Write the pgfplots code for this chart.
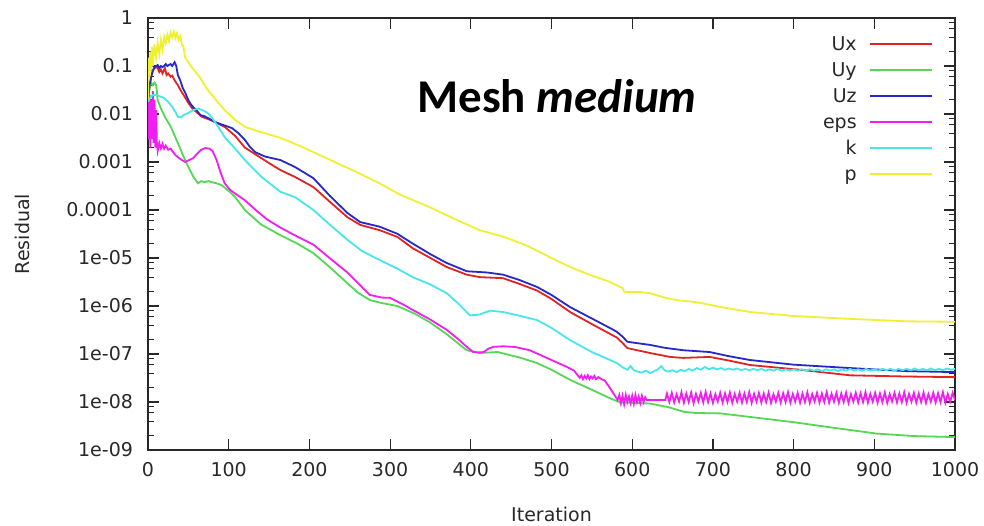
\documentclass[border=0pt]{standalone}
\usepackage{pgfplots}
\pgfplotsset{compat=1.18}
\usepackage{fontspec}
\setmainfont{DejaVu Sans}
\newfontfamily\titlefont{Carlito}

\definecolor{cUx}{RGB}{225,35,35}
\definecolor{cUy}{RGB}{85,215,85}
\definecolor{cUz}{RGB}{40,40,200}
\definecolor{ceps}{RGB}{240,30,240}
\definecolor{ck}{RGB}{70,230,235}
\definecolor{cp}{RGB}{240,240,50}
\definecolor{axgray}{RGB}{40,40,40}

\begin{document}
\begin{tikzpicture}
\begin{axis}[
    scale only axis,
    width=403.5pt, height=216pt,
    xmin=0, xmax=1000,
    ymode=log, ymin=1e-9, ymax=1,
    xtick={0,100,...,1000},
    ytick={1e-9,1e-8,1e-7,1e-6,1e-5,1e-4,1e-3,1e-2,1e-1,1},
    yticklabels={1e-09,1e-08,1e-07,1e-06,1e-05,0.0001,0.001,0.01,0.1,1},
    minor ytick={2e-9,4e-9,6e-9,8e-9,2e-8,4e-8,6e-8,8e-8,2e-7,4e-7,6e-7,8e-7,
        2e-6,4e-6,6e-6,8e-6,2e-5,4e-5,6e-5,8e-5,2e-4,4e-4,6e-4,8e-4,
        2e-3,4e-3,6e-3,8e-3,2e-2,4e-2,6e-2,8e-2,0.2,0.4,0.6,0.8},
    tick pos=both, tick align=inside,
    major tick length=5.5pt, minor tick length=3pt,
    every tick/.style={axgray, line width=0.6pt},
    axis line style={axgray, line width=0.7pt},
    tick label style={font=\fontsize{9.5}{11}\selectfont, text=axgray},
    yticklabel style={xshift=-4pt},
    xticklabel style={yshift=-2.5pt},
    /pgf/number format/assume math mode=true,
    /pgf/number format/set thousands separator={},
    xlabel={Iteration}, ylabel={Residual},
    label style={font=\fontsize{9.5}{11}\selectfont, text=axgray},
    xlabel style={at={(axis description cs:0.5,-0.150)}, anchor=center},
    ylabel style={at={(axis description cs:-0.156,0.5)}, anchor=center},
    legend style={draw=none, fill=none, at={(axis description cs:0.980,0.980)},
        anchor=north east, font=\fontsize{9.5}{11}\selectfont, text=axgray,
        row sep=0pt, column sep=6pt,
        nodes={inner sep=0pt, text height=9.5pt, text depth=3.5pt}},
    legend cell align=right,
    legend plot pos=right,
    legend image code/.code={\draw[#1] (0pt,0pt) -- (31pt,0pt);},
    clip=true,
]
% Ux
\addplot[cUx, line width=0.9pt] coordinates {
(0,0.02)(2,0.04)(4,0.06)(6,0.08)(8,0.09)(10,0.095)(12,0.09)(14,0.075)(16,0.085)(18,0.07)
(21,0.09)(23,0.065)(25,0.07)(28,0.06)(30,0.063)(33,0.05)(37,0.04)(40,0.032)(44,0.025)(50,0.017)
(55,0.013)(60,0.011)(67,0.0087)(75,0.0078)(83,0.0068)(95,0.0054)(108,0.0035)(120,0.002)
(150,9.5e-4)(164,6.8e-4)(182,4.9e-4)(205,3.0e-4)(225,1.5e-4)(247,7.1e-5)(263,4.9e-5)
(287,3.8e-5)(309,2.75e-5)(328,1.6e-5)(350,1.0e-5)(370,6.5e-6)(395,4.5e-6)(411,4.0e-6)
(440,3.8e-6)(460,2.9e-6)(482,2.1e-6)(500,1.4e-6)(523,7.5e-7)(550,4.2e-7)(581,2.2e-7)
(588,1.7e-7)(594,1.33e-7)(622,1.05e-7)(647,8.7e-8)(663,8.3e-8)(680,8.5e-8)(696,8.7e-8)
(720,7.3e-8)(746,5.9e-8)(808,4.7e-8)(870,3.6e-8)(940,3.4e-8)(1000,3.3e-8)
};
\addlegendentry{Ux}
% Uy
\addplot[cUy, line width=0.9pt] coordinates {
(0,0.02)(2,0.035)(4,0.045)(6,0.04)(8,0.045)(10,0.04)(11,0.03)(12,0.0195)(16,0.013)(21,0.0087)
(28,0.0055)(37,0.0025)(44,0.0013)(50,7.9e-4)(56,5.0e-4)(62,3.6e-4)(66,4.0e-4)(70,3.8e-4)
(75,4.0e-4)(79,3.8e-4)(85,3.6e-4)(91,3.3e-4)(100,2.5e-4)(108,1.86e-4)(120,1.0e-4)(140,5.0e-5)
(164,3.0e-5)(185,2.0e-5)(205,1.26e-5)(225,6.5e-6)(247,3.0e-6)(260,1.9e-6)(275,1.33e-6)
(290,1.15e-6)(309,1.0e-6)(330,7.0e-7)(350,4.5e-7)(370,2.6e-7)(395,1.2e-7)(411,1.05e-7)
(433,1.1e-7)(460,8.5e-8)(482,6.5e-8)(500,4.7e-8)(523,2.9e-8)(550,1.8e-8)(570,1.25e-8)
(585,9.8e-9)(600,9.6e-9)(622,9.3e-9)(645,7.8e-9)(665,6.2e-9)(680,5.9e-9)(709,5.8e-9)
(750,4.8e-9)(800,3.8e-9)(850,2.9e-9)(903,2.2e-9)(950,1.95e-9)(1000,1.86e-9)
};
\addlegendentry{Uy}
% Uz
\addplot[cUz, line width=0.9pt] coordinates {
(0,0.02)(2,0.04)(4,0.06)(6,0.08)(8,0.095)(10,0.1)(12,0.105)(14,0.09)(16,0.1)(18,0.095)
(20,0.1)(22,0.11)(24,0.1)(26,0.105)(28,0.11)(30,0.1)(33,0.12)(35,0.1)(37,0.065)(40,0.05)
(43,0.035)(46,0.028)(50,0.0195)(53,0.016)(56,0.014)(60,0.012)(65,0.0095)(70,0.009)(77,0.0078)
(83,0.0068)(92,0.006)(104,0.0051)(112,0.004)(120,0.0029)(126,0.0021)(133,0.0016)(145,0.0013)
(164,0.0011)(182,7.9e-4)(205,4.6e-4)(225,2.0e-4)(247,8.7e-5)(263,5.6e-5)(287,4.5e-5)
(309,3.2e-5)(328,2.0e-5)(350,1.2e-5)(370,7.9e-6)(395,5.3e-6)(420,5.0e-6)(440,4.5e-6)
(460,3.5e-6)(482,2.5e-6)(500,1.7e-6)(523,9.5e-7)(550,5.5e-7)(575,3.3e-7)(581,2.9e-7)
(588,2.3e-7)(594,1.8e-7)(610,1.65e-7)(622,1.55e-7)(640,1.35e-7)(663,1.2e-7)(696,1.1e-7)
(720,9e-8)(746,7.5e-8)(800,6.0e-8)(870,5.1e-8)(940,4.4e-8)(1000,4.2e-8)
};
\addlegendentry{Uz}
% eps
\addplot[ceps, line width=0.9pt] coordinates {
(0,0.02)(1,0.003)(2,0.025)(3,0.002)(4,0.02)(5,0.003)(6,0.03)(7,0.0025)(8,0.02)(9,0.002)
(10,0.012)(11,0.0025)(12,0.0017)(14,0.0025)(16,0.0019)(18,0.0024)(20,0.0019)(22,0.0022)
(25,0.0018)(28,0.0019)(30,0.0017)(34,0.0014)(37,0.00126)(42,0.0011)(46,0.001)(51,0.0011)
(56,0.0012)(61,0.0015)(66,0.0018)(71,0.00195)(76,0.0019)(80,0.0017)(85,0.0011)(90,6.0e-4)
(95,3.6e-4)(101,2.7e-4)(108,2.2e-4)(120,1.6e-4)(135,9.5e-5)(148,6.3e-5)(164,4.3e-5)
(185,2.8e-5)(205,1.9e-5)(225,1.0e-5)(247,5.0e-6)(262,2.8e-6)(275,1.7e-6)(290,1.5e-6)
(300,1.48e-6)(315,1.1e-6)(328,8.3e-7)(350,5.2e-7)(370,3.2e-7)(385,2.0e-7)(395,1.41e-7)
(403,1.1e-7)(410,1.08e-7)(416,1.1e-7)(422,1.3e-7)(428,1.41e-7)(440,1.45e-7)(455,1.4e-7)
(473,1.2e-7)(500,7.5e-8)(519,5.4e-8)(528,4.5e-8)(533,3.5e-8)
(535,3.2e-8)(537,3.6e-8)(539,3.0e-8)(541,3.5e-8)(543,3.1e-8)(545,3.6e-8)(547,3.0e-8)
(549,3.4e-8)(551,3.1e-8)(553,3.5e-8)(555,3.0e-8)(558,3.3e-8)(562,3.0e-8)(566,2.8e-8)
(572,2.0e-8)(578,1.4e-8)(582,1.1e-8)
(584,1.4e-8)(586,0.95e-8)(588,1.35e-8)(590,0.9e-8)(592,1.4e-8)(594,1.0e-8)(596,1.3e-8)
(598,0.95e-8)(600,1.35e-8)(602,0.92e-8)(604,1.4e-8)(606,1.0e-8)(608,1.3e-8)(610,0.95e-8)
(612,1.35e-8)(614,1.0e-8)(616,1.25e-8)(618,1.1e-8)(641,1.1e-8)
(643,1.5e-8)(646,1.0e-8)(649,1.55e-8)(652,0.98e-8)(655,1.45e-8)(658,1.02e-8)(661,1.6e-8)
(664,0.97e-8)(667,1.5e-8)(670,1.0e-8)(673,1.58e-8)(676,0.95e-8)(679,1.48e-8)(682,1.03e-8)
(685,1.55e-8)(688,0.98e-8)(691,1.62e-8)(694,1.0e-8)(697,1.5e-8)(700,0.96e-8)(703,1.45e-8)
(706,1.02e-8)(709,1.55e-8)(712,0.98e-8)(715,1.5e-8)(718,1.0e-8)(721,1.58e-8)(724,0.97e-8)
(727,1.47e-8)(730,1.02e-8)(733,1.55e-8)(736,0.97e-8)(739,1.5e-8)(742,1.0e-8)(745,1.6e-8)
(748,0.96e-8)(751,1.48e-8)(754,1.02e-8)(757,1.55e-8)(760,0.98e-8)(763,1.5e-8)(766,1.0e-8)
(769,1.57e-8)(772,0.96e-8)(775,1.45e-8)(778,1.02e-8)(781,1.55e-8)(784,0.98e-8)(787,1.52e-8)
(790,1.0e-8)(793,1.6e-8)(796,0.97e-8)(799,1.47e-8)(802,1.02e-8)(805,1.55e-8)(808,0.97e-8)
(811,1.5e-8)(814,1.0e-8)(817,1.58e-8)(820,0.96e-8)(823,1.46e-8)(826,1.03e-8)(829,1.55e-8)
(832,0.98e-8)(835,1.5e-8)(838,1.0e-8)(841,1.6e-8)(844,0.97e-8)(847,1.48e-8)(850,1.02e-8)
(853,1.55e-8)(856,0.97e-8)(859,1.5e-8)(862,1.0e-8)(865,1.57e-8)(868,0.96e-8)(871,1.46e-8)
(874,1.02e-8)(877,1.55e-8)(880,0.98e-8)(883,1.52e-8)(886,1.0e-8)(889,1.6e-8)(892,0.97e-8)
(895,1.47e-8)(898,1.02e-8)(901,1.55e-8)(904,0.97e-8)(907,1.5e-8)(910,1.0e-8)(913,1.58e-8)
(916,0.96e-8)(919,1.46e-8)(922,1.03e-8)(925,1.55e-8)(928,0.98e-8)(931,1.5e-8)(934,1.0e-8)
(937,1.6e-8)(940,0.97e-8)(943,1.48e-8)(946,1.02e-8)(949,1.55e-8)(952,0.97e-8)(955,1.5e-8)
(958,1.0e-8)(961,1.57e-8)(964,0.96e-8)(967,1.46e-8)(970,1.02e-8)(973,1.55e-8)(976,0.98e-8)
(979,1.52e-8)(982,1.0e-8)(985,1.6e-8)(988,0.97e-8)(991,1.47e-8)(994,1.02e-8)(997,1.55e-8)
(1000,1.1e-8)
};
\addlegendentry{eps}
% k
\addplot[ck, line width=0.9pt] coordinates {
(0,0.018)(3,0.022)(6,0.025)(9,0.025)(13,0.024)(19,0.022)(25,0.018)(30,0.014)(34,0.011)
(37,0.0087)(41,0.0085)(44,0.0095)(50,0.0105)(56,0.012)(62,0.013)(68,0.012)(74,0.0105)
(79,0.0085)(83,0.0068)(89,0.0048)(95,0.0033)(108,0.0019)(120,0.0011)(140,5.0e-4)(164,2.4e-4)
(182,1.86e-4)(205,1.0e-4)(225,5.0e-5)(247,2.4e-5)(265,1.4e-5)(287,9.1e-6)(309,6.0e-6)
(328,4.0e-6)(350,2.8e-6)(370,1.86e-6)(385,1.1e-6)(399,6.4e-7)(410,6.6e-7)(424,8.0e-7)
(440,7.5e-7)(460,6.3e-7)(482,5.1e-7)(500,3.5e-7)(523,1.95e-7)(550,1.1e-7)(575,7.2e-8)
(581,6.5e-8)(588,5.3e-8)
(594,4.7e-8)(598,5.6e-8)(602,4.6e-8)(607,4.3e-8)(612,4.1e-8)(617,4.5e-8)(622,4.0e-8)
(627,4.4e-8)(632,4.8e-8)(636,5.6e-8)(640,4.6e-8)(645,4.3e-8)(650,4.6e-8)(655,4.2e-8)
(660,4.7e-8)(665,4.4e-8)(670,4.9e-8)(675,4.5e-8)(680,5.1e-8)(685,4.7e-8)(690,5.4e-8)
(695,4.8e-8)(700,5.2e-8)(705,4.8e-8)(710,5.1e-8)(715,4.7e-8)(720,5.0e-8)(725,4.7e-8)
(730,5.0e-8)(735,4.6e-8)(740,4.9e-8)(745,4.6e-8)(750,4.9e-8)(755,4.6e-8)(760,4.9e-8)
(765,4.5e-8)(770,4.8e-8)(775,4.5e-8)(780,4.9e-8)(785,4.5e-8)(790,4.8e-8)(795,4.5e-8)
(800,4.8e-8)(805,4.5e-8)(810,4.8e-8)(815,4.5e-8)(820,4.8e-8)(825,4.5e-8)(830,4.8e-8)
(835,4.4e-8)(840,4.8e-8)(845,4.5e-8)(850,4.8e-8)(855,4.4e-8)(860,4.8e-8)(865,4.5e-8)
(870,4.9e-8)(875,4.5e-8)(880,4.8e-8)(885,4.5e-8)(890,4.9e-8)(895,4.5e-8)(900,4.8e-8)
(905,4.5e-8)(910,4.9e-8)(915,4.6e-8)(920,4.9e-8)(925,4.5e-8)(930,4.9e-8)(935,4.6e-8)
(940,4.9e-8)(945,4.6e-8)(950,5.0e-8)(955,4.6e-8)(960,4.9e-8)(965,4.6e-8)(970,5.0e-8)
(975,4.6e-8)(980,4.9e-8)(985,4.6e-8)(990,5.0e-8)(995,4.7e-8)(1000,4.9e-8)
};
\addlegendentry{k}
% p
\addplot[cp, line width=0.9pt] coordinates {
(0,0.02)(1,0.15)(2,0.06)(3,0.2)(4,0.08)(5,0.25)(6,0.1)(8,0.28)(10,0.15)(12,0.3)(14,0.18)
(16,0.35)(18,0.22)(20,0.4)(22,0.3)(24,0.45)(26,0.33)(28,0.5)(30,0.4)(32,0.52)(34,0.38)
(36,0.48)(38,0.35)(40,0.42)(42,0.28)(44,0.25)(46,0.15)(50,0.12)(55,0.09)(64,0.059)(72,0.035)
(80,0.024)(95,0.012)(108,0.0075)(120,0.0054)(140,0.0042)(164,0.0032)(190,0.0021)(226,0.0011)
(260,6.0e-4)(287,3.6e-4)(312,2.1e-4)(349,1.15e-4)(380,6.5e-5)(411,3.8e-5)(440,2.8e-5)
(470,1.8e-5)(500,1.0e-5)(523,6.5e-6)(550,4.3e-6)(570,3.3e-6)(585,2.5e-6)(588,2.4e-6)
(590,2.0e-6)(594,1.95e-6)(610,1.95e-6)(622,1.85e-6)(640,1.5e-6)(655,1.33e-6)(680,1.2e-6)
(710,9.5e-7)(746,7.5e-7)(800,6.2e-7)(870,5.4e-7)(940,4.8e-7)(1000,4.7e-7)
};
\addlegendentry{p}
\node[font=\titlefont\fontsize{23.5}{28}\selectfont\bfseries, anchor=base]
    at (rel axis cs:0.5068,0.7824) {Mesh \textit{medium}};
\coordinate (bbsw) at (rel axis cs:-0.1834,-0.1736);
\coordinate (bbne) at (rel axis cs:1.0359,1.0417);
\end{axis}
\pgfresetboundingbox
\path[use as bounding box] (bbsw) rectangle (bbne);
\end{tikzpicture}
\end{document}
